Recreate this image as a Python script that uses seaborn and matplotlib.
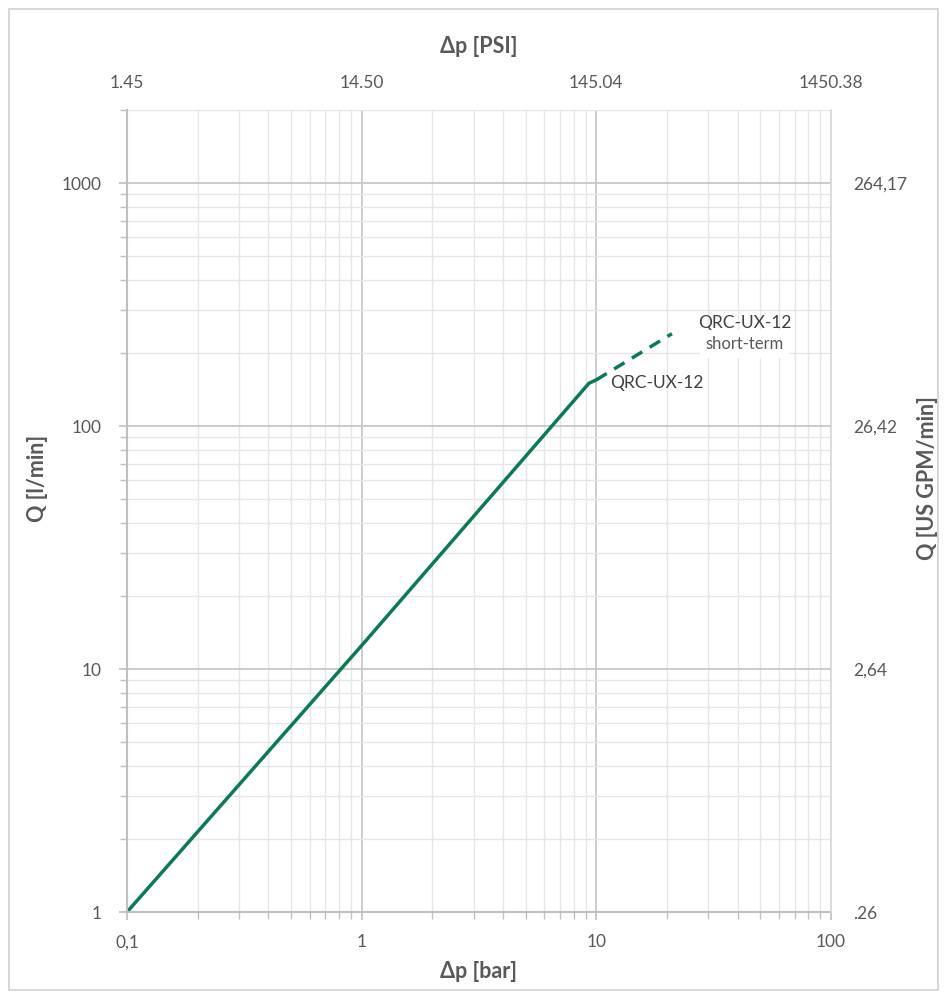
import numpy as np
import pandas as pd
import matplotlib
matplotlib.use("Agg")
import matplotlib.pyplot as plt
import matplotlib.ticker as mticker
import seaborn as sns

# main characteristic (solid) and short-term extension (dashed)
dp_bar = [0.1, 1.0, 9.3, 10.0]
flow_lpm = [1.0, 12.5, 150.0, 155.0]
dp_bar_short = [10.0, 21.0]
flow_lpm_short = [155.0, 240.0]

x_ticks = [0.1, 1, 10, 100]
x_labels = ["0,1", "1", "10", "100"]
psi_labels = ["1.45", "14.50", "145.04", "1450.38"]
y_ticks = [1, 10, 100, 1000]
y_labels = ["1", "10", "100", "1000"]
gpm_labels = [".26", "2,64", "26,42", "264,17"]

GREEN = "#0b7a57"
TXT = "#595959"
TITLE_FS = 15.5

sns.set_theme(style="white")
plt.rcParams["font.family"] = ["Lato", "DejaVu Sans"]

fig = plt.figure(figsize=(9.47, 9.96), dpi=100)
ax = fig.add_axes([0.1341, 0.0843, 0.8775 - 0.1341, 0.8896 - 0.0843])

df = pd.DataFrame({"dp": dp_bar, "q": flow_lpm})
df_s = pd.DataFrame({"dp": dp_bar_short, "q": flow_lpm_short})
sns.lineplot(data=df, x="dp", y="q", ax=ax, color=GREEN, lw=2.5, estimator=None)
sns.lineplot(data=df_s, x="dp", y="q", ax=ax, color=GREEN, lw=2.5, estimator=None,
             linestyle=(0, (3.5, 2.5)))

ax.set_xscale("log")
ax.set_yscale("log")
ax.set_xlim(0.1, 100)
ax.set_ylim(1, 2000)

ax.xaxis.set_minor_locator(mticker.LogLocator(base=10, subs=np.arange(2, 10)))
ax.yaxis.set_minor_locator(mticker.LogLocator(base=10, subs=np.arange(2, 10)))
ax.xaxis.set_minor_formatter(mticker.NullFormatter())
ax.yaxis.set_minor_formatter(mticker.NullFormatter())
ax.set_xticks(x_ticks)
ax.set_xticklabels(x_labels)
ax.set_yticks(y_ticks)
ax.set_yticklabels(y_labels)

ax.grid(which="major", color="#c8c8c8", lw=1.3)
ax.grid(which="minor", color="#e6e6e6", lw=1.0)
ax.set_axisbelow(True)

for s in ["left", "bottom"]:
    ax.spines[s].set_color("#bfbfbf")
    ax.spines[s].set_linewidth(1.5)
for s in ["top", "right"]:
    ax.spines[s].set_visible(False)

ax.tick_params(axis="both", which="both", colors="#bfbfbf", labelcolor=TXT,
               labelsize=12.5, direction="out")
ax.tick_params(axis="both", which="major", length=6, width=1.2, pad=6)
ax.tick_params(axis="both", which="minor", length=5, width=1.0)
ax.tick_params(axis="y", which="both", left=True, pad=12)
ax.tick_params(axis="x", which="both", bottom=True)
ax.tick_params(axis="x", which="major", pad=10)

ax.set_xlabel("Δp [bar]", fontsize=TITLE_FS, fontweight="bold", color=TXT)
ax.xaxis.set_label_coords(0.5, -0.061)
ax.set_ylabel("Q [l/min]", fontsize=TITLE_FS, fontweight="bold", color=TXT)
ax.yaxis.set_label_coords(-0.112, 0.541)

# top PSI axis
axt = ax.twiny()
axt.set_xscale("log")
axt.set_xlim(ax.get_xlim())
axt.set_xticks(x_ticks)
axt.set_xticklabels(psi_labels)
axt.xaxis.set_minor_locator(mticker.LogLocator(base=10, subs=np.arange(2, 10)))
axt.xaxis.set_minor_formatter(mticker.NullFormatter())
axt.tick_params(axis="x", which="both", colors="#d9d9d9", labelcolor=TXT,
                labelsize=12.5, length=0, pad=14)
for s in axt.spines.values():
    s.set_visible(False)
axt.set_xlabel("Δp [PSI]", fontsize=TITLE_FS, fontweight="bold", color=TXT)
axt.xaxis.set_label_coords(0.5, 1.071)
axt.grid(False)

# right GPM axis
axr = ax.twinx()
axr.set_yscale("log")
axr.set_ylim(ax.get_ylim())
axr.set_yticks(y_ticks)
axr.set_yticklabels(gpm_labels)
axr.yaxis.set_minor_formatter(mticker.NullFormatter())
axr.tick_params(axis="y", which="both", length=0, labelcolor=TXT, labelsize=12.5, pad=16)
for s in axr.spines.values():
    s.set_visible(False)
axr.spines["right"].set_visible(True)
axr.spines["right"].set_color("#d9d9d9")
axr.set_ylabel("Q [US GPM/min]", fontsize=TITLE_FS, fontweight="bold", color=TXT)
axr.yaxis.set_label_coords(1.122, 0.541)
axr.grid(False)

ax.text(11.5, 150, "QRC-UX-12", fontsize=12.5, color="#404040", va="center", ha="left")
ax.text(43, 265, "QRC-UX-12", fontsize=12.5, color="#404040", va="center", ha="center")
ax.text(43, 218, "short-term", fontsize=12, color="#595959", va="center", ha="center",
        bbox=dict(boxstyle="square,pad=0.35", fc="white", ec="none"))

fig.patches.append(plt.Rectangle((0.009, 0.006), 0.982, 0.985, transform=fig.transFigure,
                                 fill=False, ec="#d0d0d0", lw=1.2))

fig.savefig("out.png", dpi=100)
